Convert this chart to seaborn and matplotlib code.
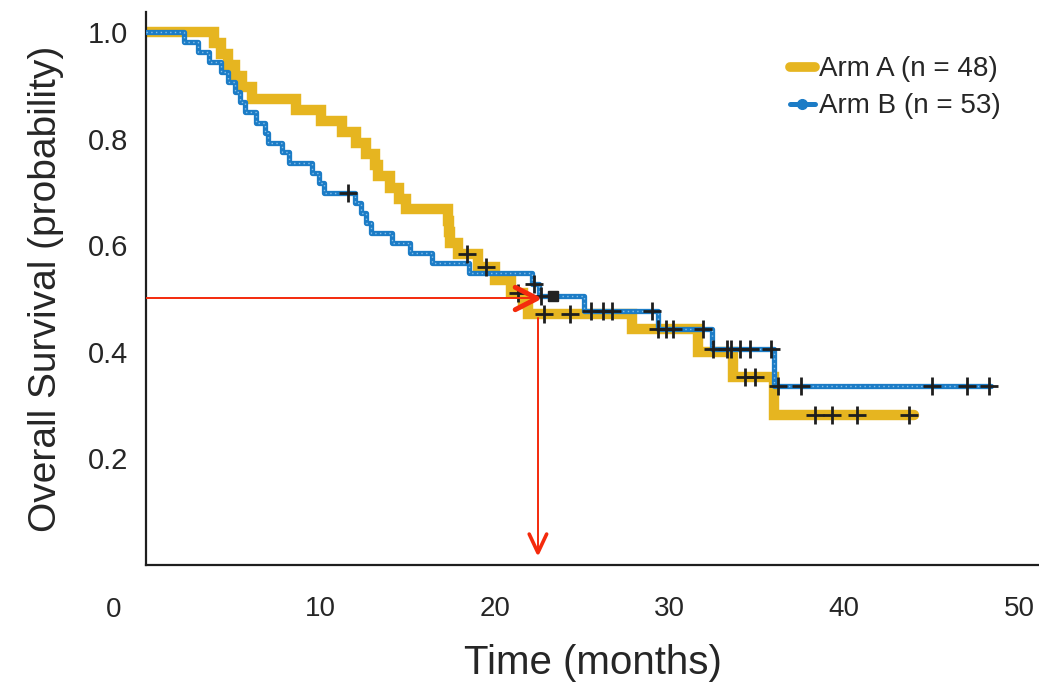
import numpy as np
import pandas as pd
import seaborn as sns
import matplotlib.pyplot as plt
from matplotlib.lines import Line2D

# Kaplan-Meier step points (time in months, survival after the drop)
arm_a_time = [0.0, 3.9, 4.3, 4.7, 5.1, 5.5, 6.05, 8.6, 10.05, 11.25, 12.05, 12.6, 13.1, 13.3,
              13.95, 14.5, 14.9, 17.3, 17.35, 17.4, 17.9, 19.0, 20.0, 20.9, 21.6, 21.9,
              27.85, 31.6, 33.6, 36.0, 44.0]
arm_a_surv = [1.0, 0.979, 0.958, 0.938, 0.917, 0.896, 0.875, 0.854, 0.833, 0.8125, 0.792, 0.771,
              0.75, 0.729, 0.708, 0.687, 0.667, 0.646, 0.625, 0.604, 0.583, 0.56, 0.535, 0.51,
              0.49, 0.471, 0.442, 0.40, 0.353, 0.282, 0.282]
arm_a_cens = [18.4, 19.5, 21.3, 22.8, 24.3, 29.3, 29.8, 30.2, 34.3, 34.9, 38.3, 39.3, 40.7, 43.7]

arm_b_time = [0.0, 2.2, 3.0, 3.6, 4.3, 4.7, 5.1, 5.4, 5.7, 6.3, 6.8, 7.0, 7.8, 8.2, 9.5, 9.9,
              10.2, 12.0, 12.3, 12.6, 12.9, 14.1, 15.1, 16.4, 18.5, 22.1, 22.5, 25.1, 29.3,
              32.4, 36.0, 48.4]
arm_b_surv = [1.0, 0.981, 0.962, 0.943, 0.925, 0.906, 0.887, 0.868, 0.849, 0.830, 0.811, 0.792,
              0.774, 0.755, 0.736, 0.717, 0.698, 0.679, 0.660, 0.641, 0.622, 0.604, 0.585,
              0.566, 0.547, 0.528, 0.505, 0.477, 0.443, 0.405, 0.335, 0.335]
arm_b_cens = [11.55, 22.2, 22.6, 25.5, 26.2, 26.7, 29.0, 31.9, 32.5, 33.3, 33.5, 34.0, 34.6,
              35.8, 36.2, 37.5, 45.0, 47.0, 48.3]
arm_b_cluster = 23.3  # dense block of censored patients

labels = ['Arm A (n = 48)', 'Arm B (n = 53)']
median_time = 22.4
median_surv = 0.5

col_a = '#e6b520'
col_b = '#1c7cc6'
red = '#f42a0c'
ink = '#1e1e1e'
txt = '#262626'

sns.set_style('white')
plt.rcParams['font.family'] = ['Liberation Sans', 'DejaVu Sans']

fig = plt.figure(figsize=(10.39, 6.85), dpi=100)
ax = fig.add_axes([0.1405, 0.1752, 0.8595, 0.8073])


def step_at(times, surv, t):
    idx = np.searchsorted(times, t, side='right') - 1
    return np.asarray(surv)[idx]


df_a = pd.DataFrame({'time': arm_a_time, 'surv': arm_a_surv})
df_b = pd.DataFrame({'time': arm_b_time, 'surv': arm_b_surv})

sns.lineplot(data=df_a, x='time', y='surv', ax=ax, color=col_a, lw=7.5, estimator=None,
             drawstyle='steps-post', solid_joinstyle='miter', zorder=2)
sns.lineplot(data=df_b, x='time', y='surv', ax=ax, color=col_b, lw=3.8, estimator=None,
             drawstyle='steps-post', zorder=3)
# light speckle along arm B like the original
sns.lineplot(data=df_b, x='time', y='surv', ax=ax, color='#86bfe9', lw=1.0, estimator=None,
             drawstyle='steps-post', linestyle=(0, (1, 2.4)), zorder=4)

# censor marks
ya = step_at(arm_a_time, arm_a_surv, arm_a_cens)
yb = step_at(arm_b_time, arm_b_surv, arm_b_cens)
sns.scatterplot(x=arm_a_cens, y=ya, ax=ax, marker='+', s=150, color=ink, linewidth=2.0, zorder=5)
sns.scatterplot(x=arm_b_cens, y=yb, ax=ax, marker='+', s=150, color=ink, linewidth=2.0, zorder=5)
ax.plot([arm_b_cluster], [step_at(arm_b_time, arm_b_surv, arm_b_cluster)], marker='s', ms=7.5,
        color='#222222', zorder=6)

# red median annotation
ax.plot([0, median_time - 0.05], [median_surv, median_surv], color=red, lw=1.4, zorder=7)
ax.plot([median_time - 1.25, median_time, median_time - 1.25],
        [median_surv + 0.021, median_surv, median_surv - 0.021],
        color=red, lw=3.6, solid_capstyle='round', zorder=7)
ax.plot([median_time + 0.05, median_time + 0.05], [0.463, 0.025], color=red, lw=1.4, zorder=7)
ax.plot([median_time - 0.45, median_time + 0.05, median_time + 0.55], [0.058, 0.023, 0.058],
        color=red, lw=2.6, solid_capstyle='round', zorder=7)

ax.set_xlim(0, 51.15)
ax.set_ylim(0, 1.0375)
ax.set_xticks([10, 20, 30, 40, 50])
ax.set_yticks([0.2, 0.4, 0.6, 0.8, 1.0])
ax.set_yticklabels(['0.2', '0.4', '0.6', '0.8', '1.0'])
ax.tick_params(axis='y', direction='out', length=11, width=1.6, color=ink, labelsize=21,
               labelcolor=txt, pad=2)
ax.tick_params(axis='x', direction='out', length=10, width=1.6, color=ink, labelsize=20,
               labelcolor=txt, pad=12)
ax.text(-1.85, -0.057, '0', ha='center', va='top', fontsize=20, color=txt,
        transform=ax.get_xaxis_transform(), clip_on=False)

ax.set_xlabel('Time (months)', fontsize=29, color=txt, labelpad=16)
ax.set_ylabel('Overall Survival (probability)', fontsize=28, color=txt, labelpad=17)

for side in ['top', 'right']:
    ax.spines[side].set_visible(False)
for side in ['left', 'bottom']:
    ax.spines[side].set_color(ink)
    ax.spines[side].set_linewidth(1.6)

handles = [Line2D([], [], color=col_a, lw=7, solid_capstyle='round'),
           Line2D([], [], color=col_b, lw=3.6, marker='o', ms=7, mfc=col_b, mec=col_b)]
ax.legend(handles, labels, loc='upper right', bbox_to_anchor=(0.985, 0.965), frameon=False,
          fontsize=20, handlelength=0.9, handletextpad=0.15, labelspacing=0.4,
          labelcolor=txt)

fig.savefig('out.png', dpi=100)
